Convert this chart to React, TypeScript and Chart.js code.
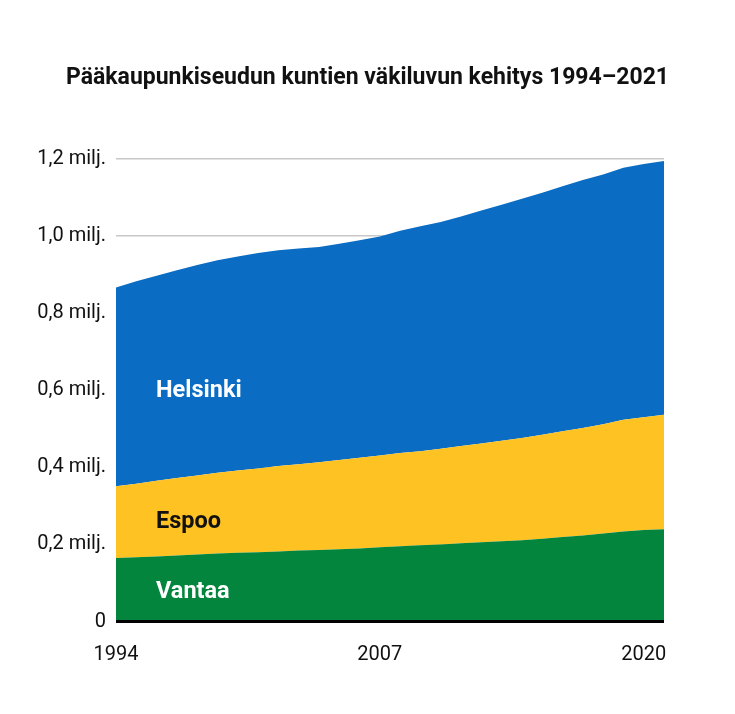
import { Chart, registerables } from "chart.js";
import { useEffect, useRef } from "react";

Chart.register(...registerables);

// väkiluku, tuhatta asukasta (31.12.)
const years = [
    "1994", "1995", "1996", "1997", "1998", "1999", "2000", "2001", "2002", "2003", "2004", "2005", "2006", "2007",
    "2008", "2009", "2010", "2011", "2012", "2013", "2014", "2015", "2016", "2017", "2018", "2019", "2020", "2021",
];
const vantaa = [
    164.6, 166.5, 168.8, 171.3, 173.9, 176.4, 178.5, 179.9, 181.9, 184.0, 185.4, 187.3, 189.7, 192.5, 195.4, 197.7,
    200.1, 203.0, 205.3, 208.1, 210.8, 214.6, 219.3, 223.0, 228.2, 233.8, 237.2, 239.2,
];
const espoo = [
    186.5, 191.2, 196.3, 200.8, 205.0, 209.7, 213.3, 216.8, 221.6, 224.2, 227.5, 231.7, 235.0, 238.0, 241.6, 244.3,
    248.0, 252.4, 256.8, 260.8, 265.5, 269.8, 274.6, 279.0, 283.6, 289.7, 292.8, 297.1,
];
const helsinki = [
    515.8, 525.0, 532.1, 539.4, 546.3, 551.1, 555.5, 559.7, 559.7, 559.3, 559.0, 560.9, 564.5, 568.5, 576.6, 583.4,
    588.5, 595.4, 604.0, 612.7, 620.7, 628.2, 635.2, 643.3, 648.0, 653.8, 656.9, 658.5,
];
const shownYears = ["1994", "2007", "2020"];
const yTicks = [0, 200, 400, 600, 800, 1000, 1200];

const title = "Pääkaupunkiseudun kuntien väkiluvun kehitys 1994–2021";

const colors = {
    helsinki: "#0a6cc2",
    espoo: "#fec222",
    vantaa: "#03853e",
    grid: "#c8c8c8",
    text: "#111111",
};

const fontFamily = "Roboto, 'Noto Sans', sans-serif";

// sarjojen nimet alueiden sisään
const areaLabels = [
    { text: "Helsinki", value: 597, color: "#ffffff" },
    { text: "Espoo", value: 259, color: "#111111" },
    { text: "Vantaa", value: 75, color: "#ffffff" },
];

const labelPlugin = {
    id: "areaLabels",
    afterDatasetsDraw(chart: any) {
        const { ctx, chartArea, scales, width } = chart;
        ctx.save();
        // nollaviiva
        const y0 = scales.y.getPixelForValue(0);
        ctx.strokeStyle = "#000";
        ctx.lineWidth = 3;
        ctx.beginPath();
        ctx.moveTo(chartArea.left, y0);
        ctx.lineTo(chartArea.right, y0);
        ctx.stroke();

        ctx.font = `700 23.5px ${fontFamily}`;
        ctx.textAlign = "left";
        ctx.textBaseline = "middle";
        areaLabels.forEach((l) => {
            ctx.fillStyle = l.color;
            ctx.fillText(l.text, chartArea.left + 40, scales.y.getPixelForValue(l.value));
        });

        // otsikko koko kuvan keskelle
        ctx.font = `700 23px ${fontFamily}`;
        ctx.textAlign = "center";
        ctx.fillStyle = colors.text;
        ctx.fillText(title, width / 2, 78);
        ctx.restore();
    },
};

export default function App() {
    const chartRef: any = useRef(null);

    useEffect(() => {
        if (!chartRef?.current) return;
        const chart = new Chart(chartRef.current.getContext("2d"), {
            type: "line",
            data: {
                labels: years,
                datasets: [
                    {
                        label: "Vantaa",
                        data: vantaa,
                        backgroundColor: colors.vantaa,
                        borderColor: colors.vantaa,
                        borderWidth: 0,
                        pointRadius: 0,
                        fill: "origin",
                        tension: 0,
                    },
                    {
                        label: "Espoo",
                        data: espoo,
                        backgroundColor: colors.espoo,
                        borderColor: colors.espoo,
                        borderWidth: 0,
                        pointRadius: 0,
                        fill: "-1",
                        tension: 0,
                    },
                    {
                        label: "Helsinki",
                        data: helsinki,
                        backgroundColor: colors.helsinki,
                        borderColor: colors.helsinki,
                        borderWidth: 0,
                        pointRadius: 0,
                        fill: "-1",
                        tension: 0,
                    },
                ],
            },
            options: {
                animation: false,
                responsive: true,
                maintainAspectRatio: false,
                layout: {
                    padding: { top: 159, left: 0, right: 71, bottom: 47.5 },
                },
                scales: {
                    x: {
                        offset: false,
                        border: { display: false },
                        grid: { display: false, drawTicks: false },
                        afterFit: (scale: any) => {
                            scale.height = 45;
                        },
                        ticks: {
                            autoSkip: false,
                            maxRotation: 0,
                            padding: 21,
                            color: colors.text,
                            font: { family: fontFamily, size: 20 },
                            callback: (_v: any, i: number) => (shownYears.includes(years[i]) ? years[i] : ""),
                        },
                    },
                    y: {
                        stacked: true,
                        min: 0,
                        max: 1200,
                        afterFit: (scale: any) => {
                            scale.width = 116;
                        },
                        afterBuildTicks: (scale: any) => {
                            scale.ticks = yTicks.map((value) => ({ value }));
                        },
                        border: { display: false },
                        grid: {
                            drawTicks: false,
                            color: (c: any) => (c.tick?.value === 0 ? "rgba(0,0,0,0)" : colors.grid),
                            lineWidth: 1.5,
                        },
                        ticks: {
                            padding: 10,
                            color: colors.text,
                            font: { family: fontFamily, size: 20 },
                            callback: (v: any) =>
                                v === 0 ? "0" : (v / 1000).toFixed(1).replace(".", ",") + " milj.",
                        },
                    },
                },
                plugins: {
                    legend: { display: false },
                    tooltip: { enabled: false },
                    title: { display: false },
                },
            },
            plugins: [labelPlugin],
        });
        return () => {
            chart.destroy();
        };
    }, []);

    return (
        <div style={{ position: "absolute", left: 0, top: 0, width: 735, height: 714, background: "#fff" }}>
            <canvas ref={chartRef} />
        </div>
    );
}
